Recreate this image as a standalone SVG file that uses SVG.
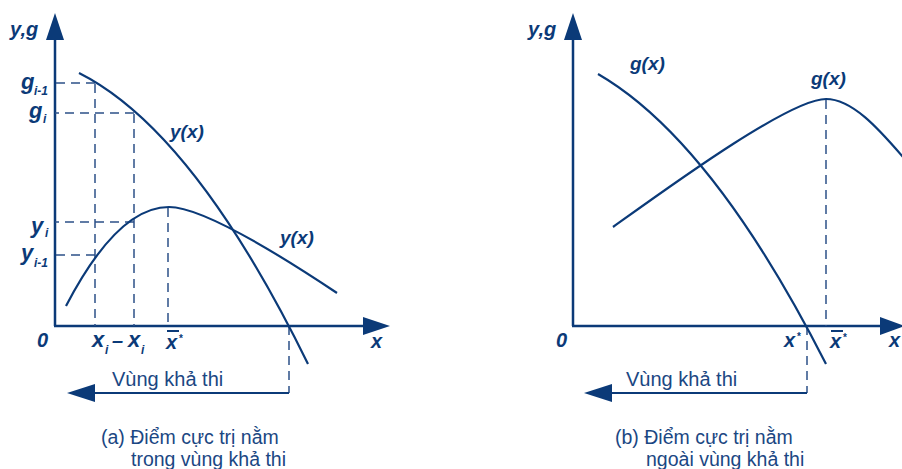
<svg xmlns="http://www.w3.org/2000/svg" width="902" height="469" viewBox="0 0 902 469">
<style>
.ax{stroke:#0b3a78;stroke-width:2.5;fill:none}
.cv{stroke:#0b3a78;stroke-width:2.2;fill:none}
.ds{stroke:#2c5088;stroke-width:1.5;fill:none;stroke-dasharray:9 6}
.hd{fill:#0b3a78;stroke:none}
.lb{font-family:"Liberation Sans",Arial,sans-serif;font-weight:bold;font-style:italic;fill:#0b3a78;font-size:20px}
.lg{font-family:"Liberation Sans",Arial,sans-serif;font-weight:bold;font-style:italic;fill:#0b3a78;font-size:22px}
.lc{font-family:"Liberation Sans",Arial,sans-serif;font-weight:bold;font-style:italic;fill:#0b3a78;font-size:19px}
.sb{font-family:"Liberation Sans",Arial,sans-serif;font-weight:bold;font-style:italic;fill:#0b3a78;font-size:12px}
.st{font-family:"Liberation Sans",Arial,sans-serif;font-weight:bold;fill:#0b3a78;font-size:10px}
.tx{font-family:"Liberation Sans",Arial,sans-serif;fill:#1b4783;font-size:20px}
.cp{font-family:"Liberation Sans",Arial,sans-serif;fill:#1b4783;font-size:19.5px}
</style>

<g id="panel-a">
  <g id="a-axes">
    <line class="ax" x1="55" y1="38" x2="55" y2="326"/>
    <polygon class="hd" points="55,13 46,40 64,40"/>
    <line class="ax" x1="54" y1="326" x2="365" y2="326"/>
    <polygon class="hd" points="390,326 363,317 363,335"/>
  </g>
  <g id="a-guides">
    <line class="ds" x1="95" y1="83" x2="55" y2="83"/>
    <line class="ds" x1="134" y1="113" x2="55" y2="113"/>
    <line class="ds" x1="134" y1="222" x2="55" y2="222"/>
    <line class="ds" x1="95" y1="255" x2="55" y2="255"/>
    <line class="ds" x1="95" y1="84" x2="95" y2="326"/>
    <line class="ds" x1="134" y1="114" x2="134" y2="326"/>
    <line class="ds" x1="168" y1="208" x2="168" y2="326"/>
    <line class="ds" x1="289" y1="326" x2="289" y2="393"/>
  </g>
  <g id="a-curves">
    <path class="cv" d="M79,73 Q193.5,130.5 308,364"/>
    <path class="cv" d="M66,306 Q117.5,207 169,207 C195,207 250,235 337,293"/>
  </g>
  <g id="a-feasible">
    <line class="ax" x1="289" y1="393" x2="93" y2="393" style="stroke-width:2"/>
    <polygon class="hd" points="67,393 95,384 95,402"/>
    <text class="tx" x="112" y="386">Vùng khả thi</text>
  </g>
  <g id="a-labels">
    <text class="lb" x="10" y="36">y,g</text>
    <text class="lg" x="21" y="89">g</text><text class="sb" x="34" y="95">i-1</text>
    <text class="lg" x="29" y="118">g</text><text class="sb" x="43" y="123">i</text>
    <text class="lg" x="31" y="233">y</text><text class="sb" x="45" y="237">i</text>
    <text class="lg" x="21" y="260">y</text><text class="sb" x="34" y="267">i-1</text>
    <text class="lc" x="170" y="138">y(x)</text>
    <text class="lc" x="280" y="244">y(x)</text>
    <text class="lb" x="37" y="347">0</text>
    <text class="lg" x="92" y="347">x</text><text class="sb" x="105" y="354">i</text>
    <text class="lb" x="112" y="347">–</text>
    <text class="lg" x="128" y="347">x</text><text class="sb" x="141" y="354">i</text>
    <line x1="167" y1="331" x2="179" y2="331" stroke="#0b3a78" stroke-width="2"/>
    <text class="lb" x="166" y="349">x</text><text class="st" x="179" y="342">*</text>
    <text class="lb" x="371" y="348">x</text>
  </g>
  <g id="a-caption">
    <text class="cp" x="101" y="444">(a) Điểm cực trị nằm</text>
    <text class="cp" x="131" y="466">trong vùng khả thi</text>
  </g>
</g>

<g id="panel-b">
  <g id="b-axes">
    <line class="ax" x1="573" y1="38" x2="573" y2="326"/>
    <polygon class="hd" points="573,13 564,40 582,40"/>
    <line class="ax" x1="572" y1="326" x2="882" y2="326"/>
    <polygon class="hd" points="905,326 880,317 880,335"/>
  </g>
  <g id="b-guides">
    <line class="ds" x1="826" y1="100" x2="826" y2="326"/>
    <line class="ds" x1="807" y1="326" x2="807" y2="393"/>
  </g>
  <g id="b-curves">
    <path class="cv" d="M598,74 Q712,140 826,364"/>
    <path class="cv" d="M613,227 C673,184 790,99 826,99 C852,99 878,128 903,157"/>
  </g>
  <g id="b-feasible">
    <line class="ax" x1="807" y1="393" x2="610" y2="393" style="stroke-width:2"/>
    <polygon class="hd" points="584,393 612,384 612,402"/>
    <text class="tx" x="626" y="386">Vùng khả thi</text>
  </g>
  <g id="b-labels">
    <text class="lb" x="528" y="36">y,g</text>
    <text class="lc" x="630" y="70">g(x)</text>
    <text class="lc" x="811" y="85">g(x)</text>
    <text class="lb" x="556" y="347">0</text>
    <text class="lb" x="784" y="347">x</text><text class="st" x="797" y="340">*</text>
    <line x1="831" y1="331" x2="843" y2="331" stroke="#0b3a78" stroke-width="2"/>
    <text class="lb" x="830" y="348">x</text><text class="st" x="843" y="341">*</text>
    <text class="lb" x="889" y="347">x</text>
  </g>
  <g id="b-caption">
    <text class="cp" x="615" y="444">(b) Điểm cực trị nằm</text>
    <text class="cp" x="646" y="466">ngoài vùng khả thi</text>
  </g>
</g>
</svg>
